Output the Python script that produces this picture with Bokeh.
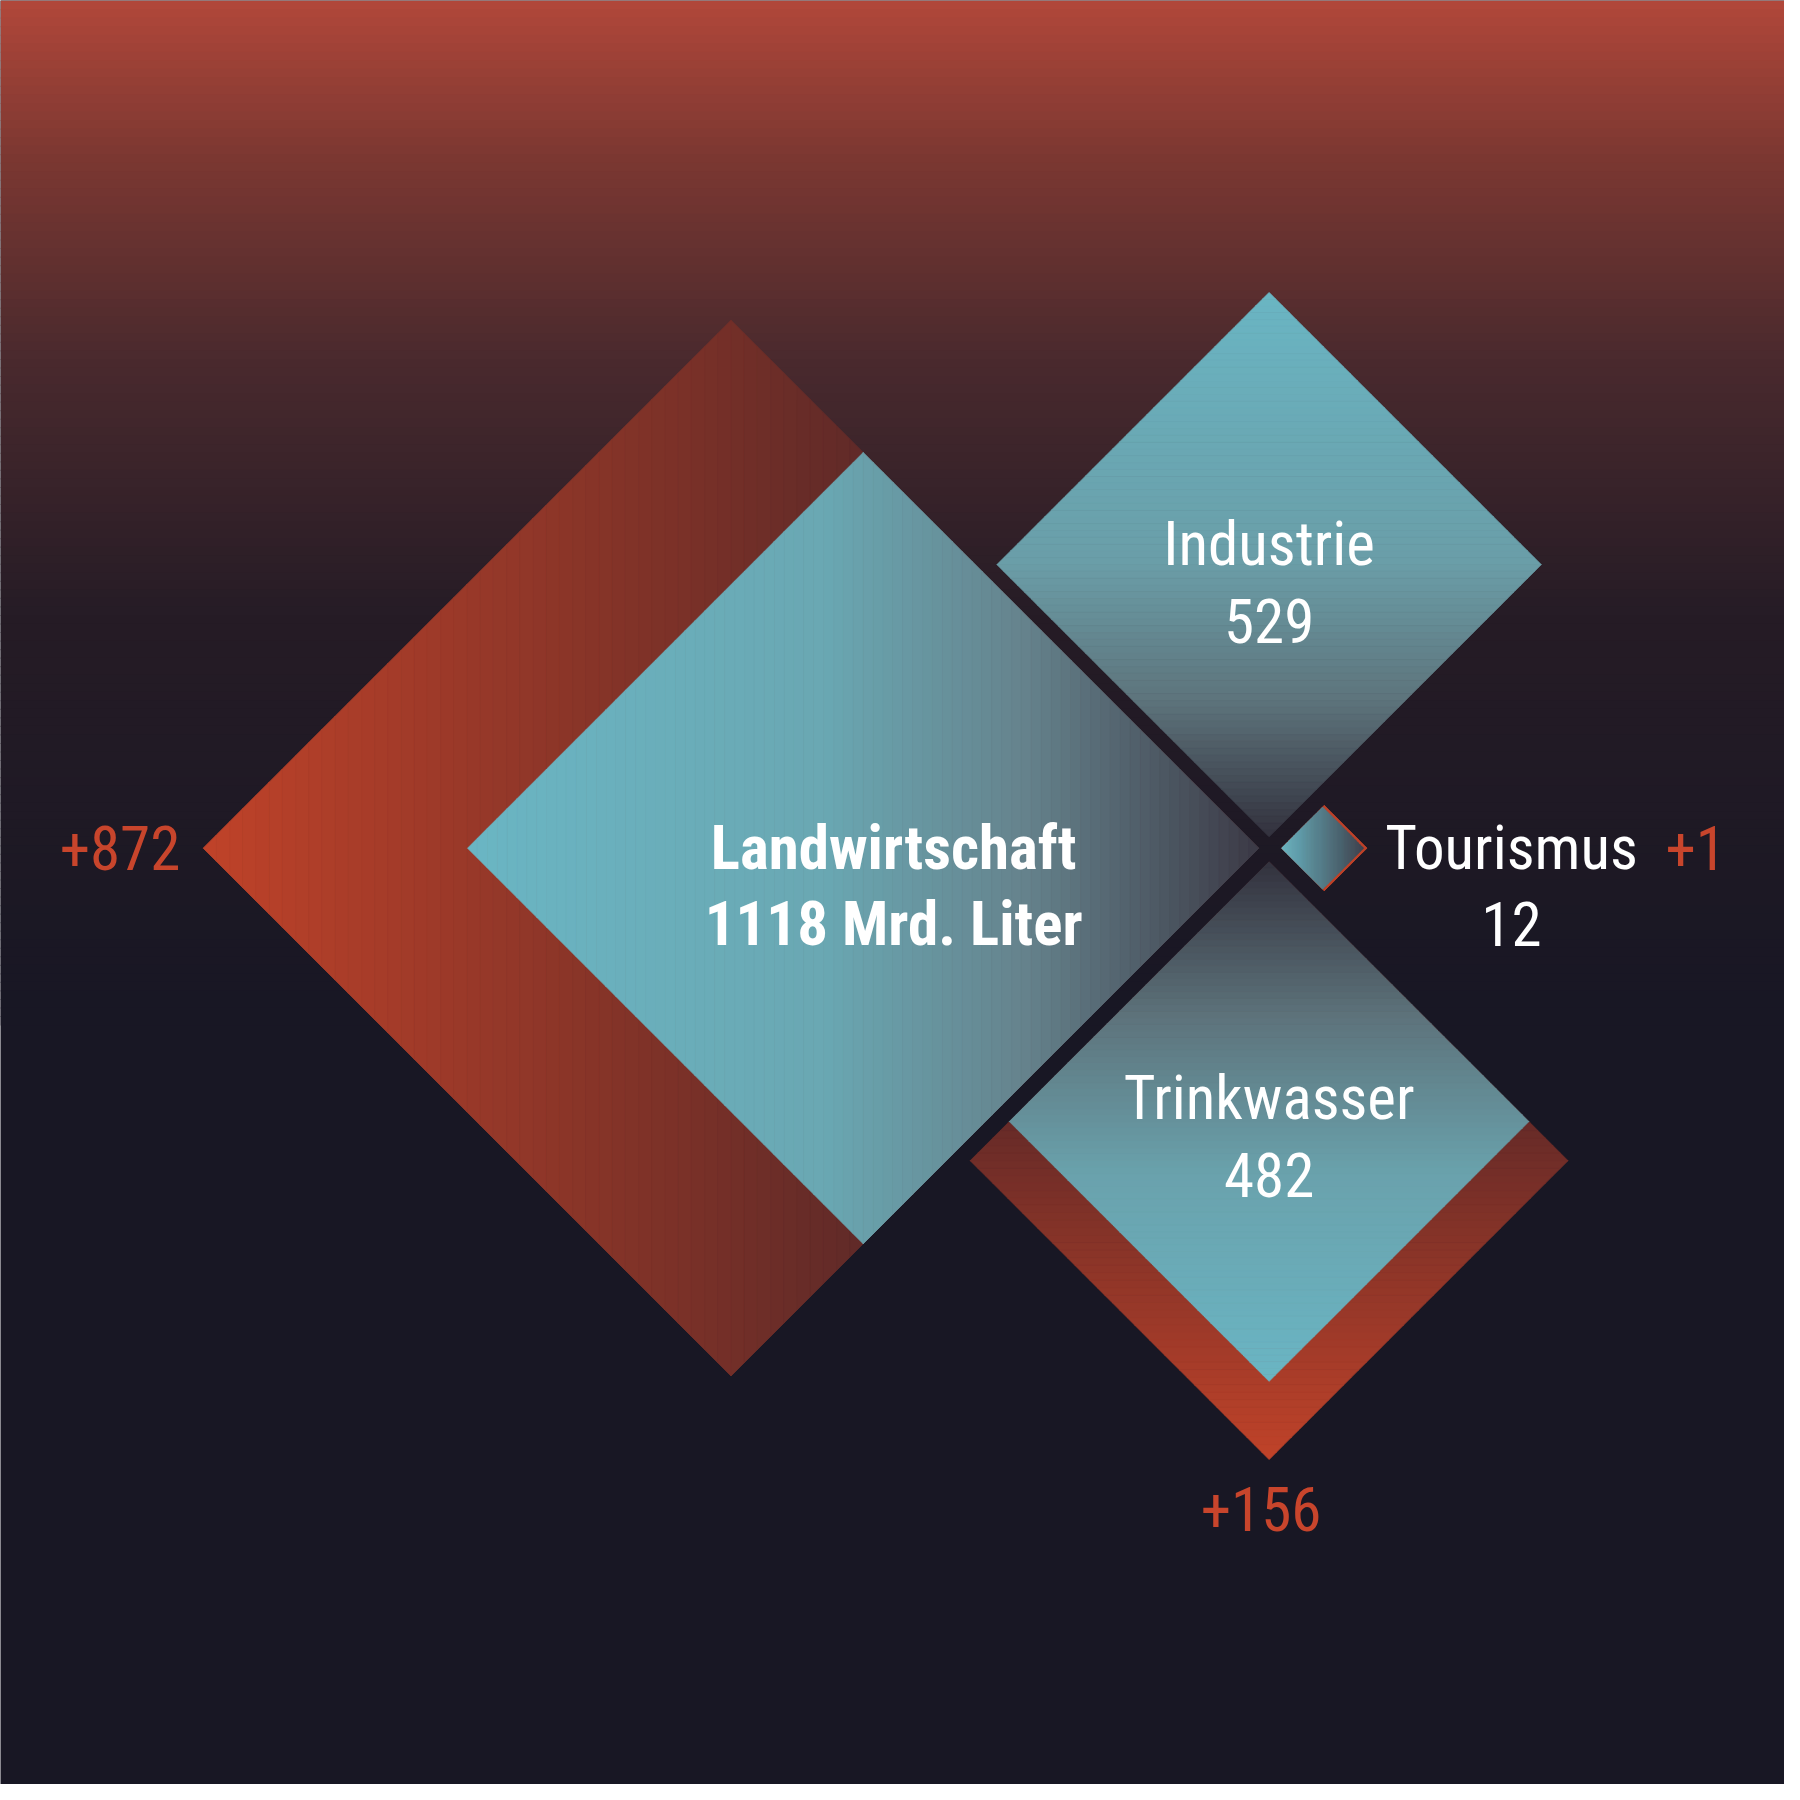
from bokeh.plotting import figure
from bokeh.models import Range1d
from bokeh.core.properties import value
from bokeh.embed import file_html
from bokeh.resources import INLINE
import math

# data (Mrd. Liter)
labels = ["Landwirtschaft", "Industrie", "Trinkwasser", "Tourismus"]
values = [1118, 529, 482, 12]
increase = [872, 0, 156, 1]

K = 10.4  # half-diagonal per sqrt(value)
W = 1568
FONT = value("Liberation Sans Narrow, Roboto Condensed, Roboto, sans-serif")
S = 1784 / W  # pixel scale

def hx(c):
    c = c.lstrip("#")
    return [int(c[i:i + 2], 16) for i in (0, 2, 4)]

def grad(stops, t):
    for (t0, c0), (t1, c1) in zip(stops, stops[1:]):
        if t <= t1:
            f = 0 if t1 == t0 else (t - t0) / (t1 - t0)
            a, b = hx(c0), hx(c1)
            return "#%02x%02x%02x" % tuple(int(a[i] + (b[i] - a[i]) * f) for i in range(3))
    return stops[-1][1]

p = figure(width=1784, height=1784, x_range=Range1d(0, W), y_range=Range1d(W, 0),
           output_backend="svg", toolbar_location=None, min_border=0,
           background_fill_color="#181724", border_fill_color="#181724")
p.axis.visible = False
p.grid.visible = False
p.outline_line_color = None

# background gradient
bg = [(0, "#b0473a"), (0.15, "#7c3832"), (0.35, "#4a2a2e"), (0.6, "#261c26"), (1, "#181724")]
n = 120
for i in range(n):
    y0 = 900 * i / n
    y1 = 900 * (i + 1) / n + 1
    c = grad(bg, i / (n - 1))
    p.quad(left=0, right=W, top=y0, bottom=y1, fill_color=c, line_color=None)

def diamond(cx, cy, h, stops, axis="x", n=80):
    xs, ys, cols = [], [], []
    for i in range(n):
        a = -h + 2 * h * i / n
        b = -h + 2 * h * (i + 1) / n
        e0, e1 = h - abs(a), h - abs(b)
        c = grad(stops, (i + 0.5) / n)
        if axis == "x":
            xs.append([cx + a, cx + b, cx + b, cx + a])
            ys.append([cy - e0, cy - e1, cy + e1, cy + e0])
        else:
            ys.append([cy + a, cy + b, cy + b, cy + a])
            xs.append([cx - e0, cx - e1, cx + e1, cx + e0])
        cols.append(c)
    p.patches(xs, ys, fill_color=cols, line_color=cols, line_width=0.8)

teal = "#6ab6c4"

# Landwirtschaft
h_in = K * math.sqrt(values[0])
h_out = K * math.sqrt(values[0] + increase[0])
right = 1106
cy = 745
diamond(right - h_out, cy, h_out, [(0, "#c0432a"), (0.64, "#5e2a28"), (1, "#4a2428")])
diamond(right - h_in, cy, h_in, [(0, teal), (0.45, "#6aa8b3"), (0.7, "#66848e"), (1, "#3c3a46")])

# Industrie
h_i = K * math.sqrt(values[1])
diamond(1115, 735 - h_i, h_i, [(0, teal), (0.5, "#6b9ea8"), (0.75, "#5e747c"), (1, "#33323e")], axis="y")

# Trinkwasser
h_t = K * math.sqrt(values[2])
h_to = K * math.sqrt(values[2] + increase[2])
top = 757
diamond(1115, top + h_to, h_to, [(0, "#4a2428"), (0.45, "#6a2c28"), (1, "#c0432a")], axis="y")
diamond(1115, top + h_t, h_t, [(0, "#33323e"), (0.3, "#5e747c"), (0.6, "#6aa2ad"), (1, teal)], axis="y")

# Tourismus
h_u = K * math.sqrt(values[3])
h_uo = K * math.sqrt(values[3] + increase[3])
diamond(1126 + h_uo, cy, h_uo, [(0, "#c0432a"), (1, "#c0432a")])
diamond(1126 + h_uo - 1.5, cy, h_u, [(0, teal), (1, "#3e4450")])

def txt(x, y, s, size, color="#ffffff", bold=False):
    p.text(x=[x], y=[y], text=[s], text_font=FONT, text_font_size="%dpx" % round(size * S),
           text_color=color, text_align="center", text_baseline="middle",
           text_font_style="bold" if bold else "normal")

red = "#c8452c"
txt(785, 745, "Landwirtschaft", 54, bold=True)
txt(785, 812, "%d Mrd. Liter" % values[0], 54, bold=True)
txt(105, 745, "+%d" % increase[0], 54, red)
txt(1115, 478, "Industrie", 54)
txt(1115, 545, str(values[1]), 54)
txt(1115, 965, "Trinkwasser", 54)
txt(1115, 1032, str(values[2]), 54)
txt(1108, 1326, "+%d" % increase[2], 54, red)
txt(1328, 745, "Tourismus", 54)
txt(1328, 812, str(values[3]), 54)
txt(1490, 745, "+%d" % increase[3], 54, red)

open("out.html", "w").write(file_html(p, INLINE))
